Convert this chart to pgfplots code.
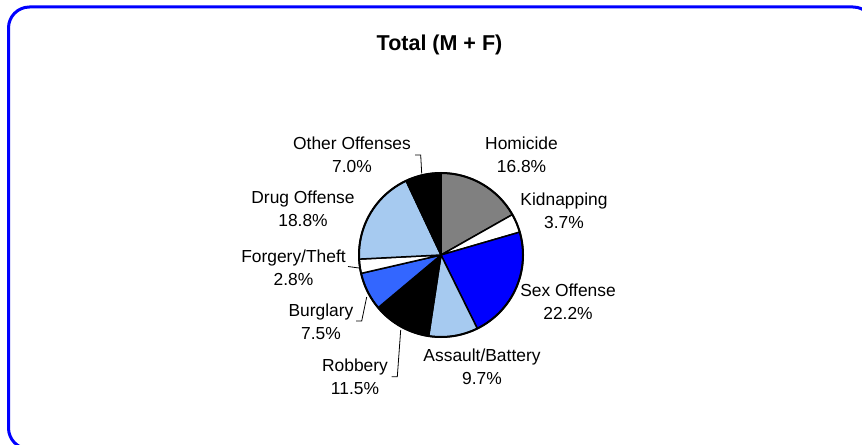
\documentclass[border=0pt]{standalone}
\usepackage{pgfplots}
\pgfplotsset{compat=1.18}
\usepackage{fontspec}
\setmainfont{Liberation Sans}
\definecolor{homc}{RGB}{128,128,128}
\definecolor{sexc}{RGB}{0,0,255}
\definecolor{lblue}{RGB}{166,202,240}
\definecolor{burgc}{RGB}{51,102,255}
\definecolor{framec}{RGB}{0,0,255}
% slice: #1 cumulative % at start, #2 cumulative % at end, #3 colour
\newcommand{\slice}[3]{%
  \filldraw[fill=#3, draw=black, line width=1.5bp, line join=round]
    (axis cs:441,255) -- (axis cs:{441+82*cos(90-3.6*#1)},{255-82*sin(90-3.6*#1)})
    arc[start angle={90-3.6*#1}, end angle={90-3.6*#2}, radius=82bp] -- cycle;}
\newcommand{\lbl}[4]{\node[align=center, font=\fontsize{17.4bp}{23bp}\selectfont, inner sep=0pt] at (axis cs:#1,#2) {#3\\#4};}
\begin{document}
\begin{tikzpicture}
\begin{axis}[x=1bp, y=1bp, xmin=0, xmax=862, ymin=0, ymax=445, y dir=reverse,
  hide axis, clip=false, scale only axis]
\coordinate (BL) at (axis cs:0,445);
\coordinate (TR) at (axis cs:862,0);
\fill[white] (axis cs:0,0) rectangle (axis cs:862,445);
\begin{scope}
\clip (axis cs:0,0) rectangle (axis cs:862,445);
\draw[framec, line width=3bp, rounded corners=21bp] (axis cs:8.5,7) rectangle (axis cs:874,449);
\end{scope}
\node[font=\fontsize{21.5bp}{24bp}\selectfont\bfseries] at (axis cs:439.5,45) {Total (M + F)};
% percentages: Homicide 16.8, Kidnapping 3.7, Sex Offense 22.2, Assault/Battery 9.7,
% Robbery 11.5, Burglary 7.5, Forgery/Theft 2.8, Drug Offense 18.8, Other Offenses 7.0
\slice{0}{16.8}{homc}
\slice{16.8}{20.5}{white}
\slice{20.5}{42.7}{sexc}
\slice{42.7}{52.4}{lblue}
\slice{52.4}{63.9}{black}
\slice{63.9}{71.4}{burgc}
\slice{71.4}{74.2}{white}
\slice{74.2}{93.0}{lblue}
\slice{93.0}{100}{black}
\draw[line width=2bp] (axis cs:441,255) circle[radius=82bp];
% leader lines
\draw[line width=0.8bp] (axis cs:415,155) -- (axis cs:420.7,155) -- (axis cs:421.7,173.5);
\draw[line width=0.8bp] (axis cs:348,266.5) -- (axis cs:359,268);
\draw[line width=0.8bp] (axis cs:356,321) -- (axis cs:361.7,321) -- (axis cs:366.7,297);
\draw[line width=0.8bp] (axis cs:391.7,376.7) -- (axis cs:397.3,376.7) -- (axis cs:400.7,330);
% labels
\lbl{521.5}{154.5}{Homicide}{16.8\%}
\lbl{564}{211}{Kidnapping}{3.7\%}
\lbl{568}{301.5}{Sex Offense}{22.2\%}
\lbl{482}{366.5}{Assault/Battery}{9.7\%}
\lbl{355}{376.5}{Robbery}{11.5\%}
\lbl{321}{321.5}{Burglary}{7.5\%}
\lbl{293.5}{268}{Forgery/Theft}{2.8\%}
\lbl{303}{208.5}{Drug Offense}{18.8\%}
\lbl{352}{154.5}{Other Offenses}{7.0\%}
\end{axis}
\pgfresetboundingbox
\useasboundingbox (BL) rectangle (TR);
\end{tikzpicture}
\end{document}
